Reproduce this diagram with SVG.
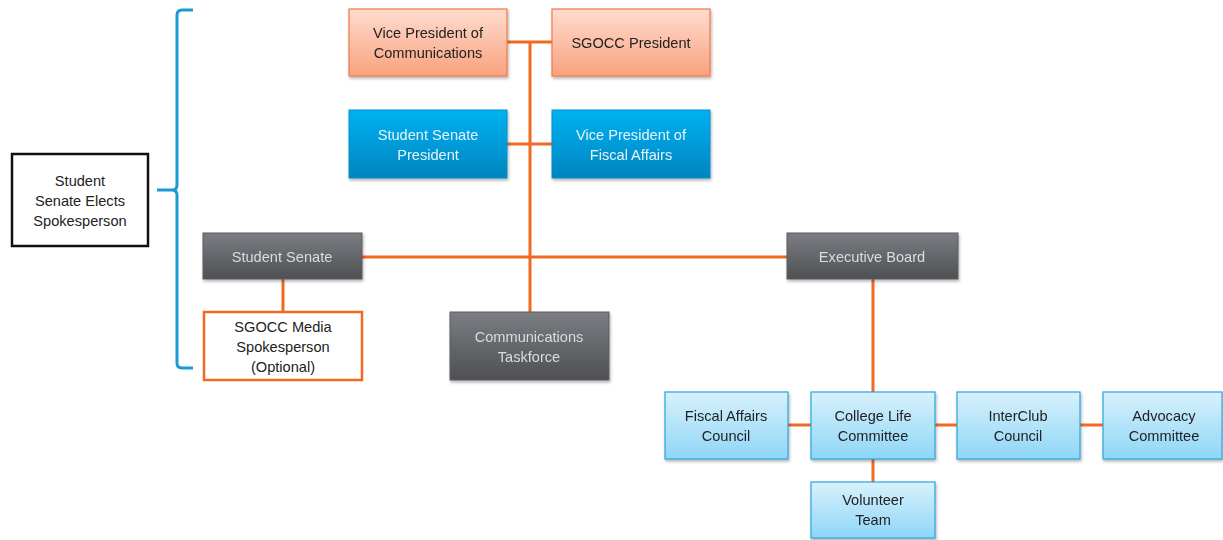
<svg xmlns="http://www.w3.org/2000/svg" width="1223" height="540" viewBox="0 0 1223 540">
<style>
text{font-family:"Liberation Sans",Arial,sans-serif;font-size:14.6px;text-anchor:middle}
.dark{fill:#222}
.light{fill:#e6f4fb}
.grey{fill:#dcdcdc}
.conn{stroke:#f26a21;stroke-width:3;fill:none}
.salmon{fill:url(#gs);stroke:#f07a4a;stroke-width:1.2}
.blue{fill:url(#gb);stroke:#0a8fc8;stroke-width:1}
.gray{fill:url(#gg);stroke:#5a5c60;stroke-width:1}
.lblue{fill:url(#gl);stroke:#2aa6dc;stroke-width:1.2}
</style>
<defs>
<linearGradient id="gs" x1="0" y1="0" x2="0" y2="1"><stop offset="0" stop-color="#ffdccf"/><stop offset="1" stop-color="#f9a27e"/></linearGradient>
<linearGradient id="gb" x1="0" y1="0" x2="0" y2="1"><stop offset="0" stop-color="#00b2f2"/><stop offset="1" stop-color="#0084bf"/></linearGradient>
<linearGradient id="gg" x1="0" y1="0" x2="0" y2="1"><stop offset="0" stop-color="#7b7d82"/><stop offset="1" stop-color="#4e5054"/></linearGradient>
<linearGradient id="gl" x1="0" y1="0" x2="0" y2="1"><stop offset="0" stop-color="#d8f1fc"/><stop offset="1" stop-color="#8ed6f7"/></linearGradient>
<filter id="sh" x="-10%" y="-10%" width="125%" height="135%"><feDropShadow dx="1" dy="2" stdDeviation="1.5" flood-color="#000" flood-opacity="0.3"/></filter>
</defs>
<rect width="1223" height="540" fill="#fff"/>
<g id="connectors">
<path class="conn" d="M507,42 H552 M530,42 V312 M507,144 H552 M362,257 H787 M283,279 V312 M873,279 V392 M788,425 H811 M935,425 H957 M1080,425 H1103 M873,459 V482"/>
</g>
<g id="bracket">
<path d="M193,10 H182 Q177,10 177,15 V185 Q177,190 172,190 H157 M172,190 Q177,190 177,195 V363 Q177,368 182,368 H193" fill="none" stroke="#1b9ad6" stroke-width="3"/>
</g>
<g id="elects">
<rect x="12" y="154" width="136" height="92" fill="#fff" stroke="#111" stroke-width="2.5"/>
<text class="dark" x="80" y="186">Student</text>
<text class="dark" x="80" y="206">Senate Elects</text>
<text class="dark" x="80" y="226">Spokesperson</text>
</g>
<g id="vp-comms" filter="url(#sh)">
<rect class="salmon" x="349" y="9" width="158" height="67"/>
<text class="dark" x="428" y="38">Vice President of</text>
<text class="dark" x="428" y="58">Communications</text>
</g>
<g id="sgocc-president" filter="url(#sh)">
<rect class="salmon" x="552" y="9" width="158" height="67"/>
<text class="dark" x="631" y="48">SGOCC President</text>
</g>
<g id="ss-president" filter="url(#sh)">
<rect class="blue" x="349" y="110" width="158" height="68"/>
<text class="light" x="428" y="140">Student Senate</text>
<text class="light" x="428" y="160">President</text>
</g>
<g id="vp-fiscal" filter="url(#sh)">
<rect class="blue" x="552" y="110" width="158" height="68"/>
<text class="light" x="631" y="140">Vice President of</text>
<text class="light" x="631" y="160">Fiscal Affairs</text>
</g>
<g id="student-senate" filter="url(#sh)">
<rect class="gray" x="203" y="233" width="159" height="46"/>
<text class="grey" x="282" y="262">Student Senate</text>
</g>
<g id="executive-board" filter="url(#sh)">
<rect class="gray" x="787" y="233" width="171" height="46"/>
<text class="grey" x="872" y="262">Executive Board</text>
</g>
<g id="media-spokesperson">
<rect x="204" y="312" width="158" height="68" fill="#fff" stroke="#f26a21" stroke-width="2.5"/>
<text class="dark" x="283" y="332">SGOCC Media</text>
<text class="dark" x="283" y="352">Spokesperson</text>
<text class="dark" x="283" y="372">(Optional)</text>
</g>
<g id="comm-taskforce" filter="url(#sh)">
<rect class="gray" x="450" y="312" width="159" height="68"/>
<text class="grey" x="529" y="342">Communications</text>
<text class="grey" x="529" y="362">Taskforce</text>
</g>
<g id="fiscal-council" filter="url(#sh)">
<rect class="lblue" x="665" y="392" width="123" height="67"/>
<text class="dark" x="726" y="421">Fiscal Affairs</text>
<text class="dark" x="726" y="441">Council</text>
</g>
<g id="college-life" filter="url(#sh)">
<rect class="lblue" x="811" y="392" width="124" height="67"/>
<text class="dark" x="873" y="421">College Life</text>
<text class="dark" x="873" y="441">Committee</text>
</g>
<g id="interclub" filter="url(#sh)">
<rect class="lblue" x="957" y="392" width="123" height="67"/>
<text class="dark" x="1018" y="421">InterClub</text>
<text class="dark" x="1018" y="441">Council</text>
</g>
<g id="advocacy" filter="url(#sh)">
<rect class="lblue" x="1103" y="392" width="119" height="67"/>
<text class="dark" x="1164" y="421">Advocacy</text>
<text class="dark" x="1164" y="441">Committee</text>
</g>
<g id="volunteer" filter="url(#sh)">
<rect class="lblue" x="811" y="482" width="124" height="56"/>
<text class="dark" x="873" y="505">Volunteer</text>
<text class="dark" x="873" y="525">Team</text>
</g>
</svg>
